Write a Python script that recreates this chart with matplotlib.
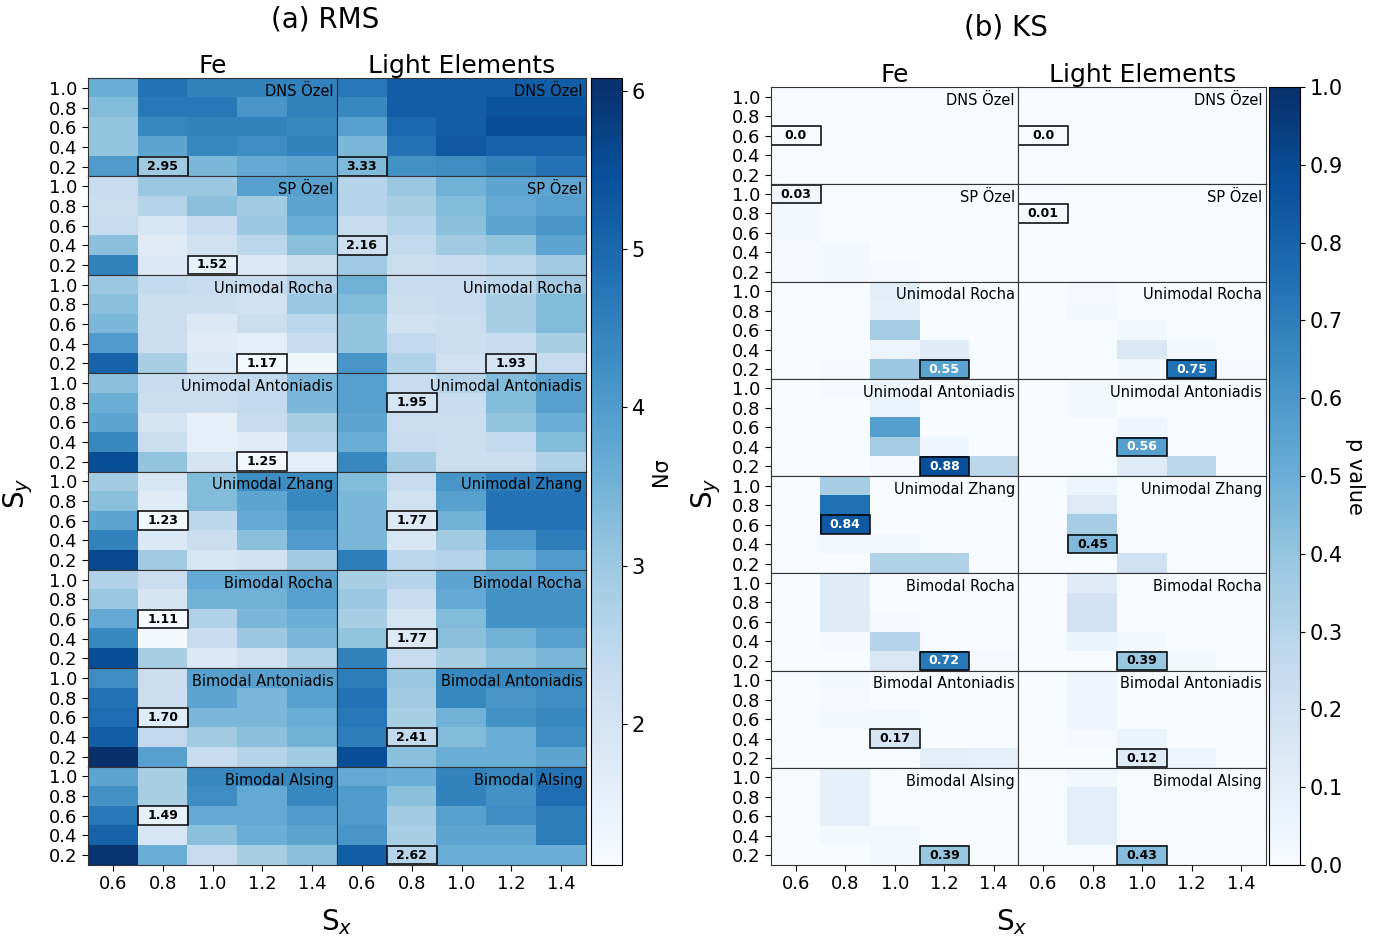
import numpy as np
import matplotlib
matplotlib.use('Agg')
import matplotlib.pyplot as plt
from matplotlib.patches import Rectangle
from matplotlib.colors import Normalize

# subpanel names, top to bottom
models = ['DNS Özel', 'SP Özel', 'Unimodal Rocha', 'Unimodal Antoniadis',
          'Unimodal Zhang', 'Bimodal Rocha', 'Bimodal Antoniadis', 'Bimodal Alsing']
columns = ['Fe', 'Light Elements']
sx_vals = [0.6, 0.8, 1.0, 1.2, 1.4]
sy_vals = [1.0, 0.8, 0.6, 0.4, 0.2]   # grid rows are listed top (sy=1.0) to bottom (sy=0.2)

# RMS (N sigma), Fe
rms_fe = [
  [[3.6, 4.8, 4.5, 4.5, 4.5], [3.3, 4.7, 4.7, 4.1, 4.5], [3.1, 4.4, 4.5, 4.5, 4.4],
   [3.1, 3.8, 4.4, 4.3, 4.5], [4.0, 2.95, 3.4, 3.7, 3.8]],
  [[2.3, 3.0, 3.0, 3.9, 3.9], [2.2, 2.6, 3.2, 2.9, 3.8], [2.3, 1.9, 2.3, 3.0, 3.6],
   [3.2, 1.7, 2.1, 2.5, 3.2], [4.5, 1.8, 1.52, 1.8, 2.2]],
  [[3.0, 2.4, 2.3, 2.3, 2.7], [3.2, 2.2, 2.2, 2.1, 3.0], [3.4, 2.2, 1.8, 2.2, 2.5],
   [4.0, 2.2, 1.7, 1.6, 2.3], [5.1, 2.8, 1.8, 1.17, 1.3]],
  [[3.2, 2.3, 2.2, 2.4, 3.4], [3.6, 2.2, 2.2, 2.4, 3.4], [3.8, 2.0, 1.5, 2.3, 2.8],
   [4.4, 2.2, 1.5, 1.7, 2.6], [5.5, 3.1, 2.0, 1.25, 1.6]],
  [[2.9, 1.9, 3.3, 4.3, 4.3], [3.2, 1.7, 3.3, 3.8, 4.4], [3.8, 1.23, 2.5, 3.7, 4.2],
   [4.5, 1.8, 2.2, 3.2, 4.0], [5.6, 2.9, 1.9, 2.1, 2.9]],
  [[2.7, 2.2, 3.7, 3.7, 3.9], [3.0, 2.0, 3.5, 3.5, 3.9], [3.7, 1.11, 2.7, 3.4, 3.6],
   [4.4, 1.2, 2.3, 3.0, 3.4], [5.5, 2.8, 1.8, 2.1, 2.7]],
  [[4.3, 2.2, 3.9, 3.9, 3.9], [4.8, 2.2, 3.8, 3.4, 3.9], [4.9, 1.70, 3.4, 3.4, 3.6],
   [5.2, 2.4, 2.9, 3.2, 3.5], [6.08, 3.9, 2.3, 2.6, 2.9]],
  [[3.8, 2.8, 4.4, 4.4, 4.4], [4.2, 2.8, 4.3, 3.7, 4.4], [4.7, 1.49, 3.7, 3.7, 4.0],
   [5.1, 1.9, 3.2, 3.6, 3.8], [6.0, 3.6, 2.3, 2.8, 3.2]],
]

# RMS (N sigma), light elements
rms_light = [
  [[4.7, 5.2, 5.2, 5.2, 5.2], [4.4, 5.2, 5.2, 5.4, 5.4], [3.9, 5.0, 5.2, 5.5, 5.5],
   [3.4, 4.8, 5.3, 5.1, 5.1], [3.33, 4.2, 4.3, 4.5, 4.8]],
  [[2.6, 3.0, 3.5, 3.8, 3.8], [2.6, 2.8, 3.3, 3.7, 3.9], [2.3, 2.6, 3.2, 3.8, 4.1],
   [2.16, 2.4, 2.9, 3.1, 3.8], [2.95, 2.2, 2.3, 2.5, 2.9]],
  [[3.5, 2.3, 2.3, 2.5, 2.9], [3.3, 2.2, 2.3, 2.8, 3.3], [3.1, 2.1, 2.2, 2.8, 3.3],
   [3.1, 2.4, 2.2, 2.3, 2.8], [4.1, 2.7, 2.1, 1.93, 2.3]],
  [[3.9, 2.3, 2.6, 3.3, 3.9], [3.9, 1.95, 2.3, 3.3, 3.9], [3.8, 2.2, 2.2, 3.1, 3.6],
   [3.6, 2.3, 2.2, 2.4, 3.3], [4.4, 2.9, 2.2, 2.2, 2.7]],
  [[3.3, 2.3, 4.1, 4.6, 4.7], [3.4, 2.1, 3.9, 4.8, 4.8], [3.4, 1.77, 3.5, 4.8, 4.8],
   [3.4, 1.9, 2.9, 4.0, 4.6], [4.6, 2.5, 2.6, 3.5, 4.0]],
  [[2.8, 2.6, 3.8, 4.0, 4.0], [3.0, 2.3, 3.7, 4.2, 4.2], [2.8, 2.0, 3.3, 4.2, 4.2],
   [3.1, 1.77, 3.2, 3.5, 3.9], [4.5, 2.3, 2.8, 3.2, 3.4]],
  [[4.6, 3.0, 4.4, 4.4, 4.4], [4.8, 2.9, 4.4, 4.1, 4.3], [4.7, 2.8, 3.5, 4.2, 4.4],
   [4.6, 2.41, 3.3, 3.6, 4.3], [5.5, 3.2, 3.6, 3.6, 3.8]],
  [[3.7, 3.6, 4.5, 4.4, 4.8], [4.0, 3.2, 4.5, 4.2, 4.9], [4.0, 2.9, 3.9, 4.3, 4.6],
   [4.1, 2.8, 3.8, 3.8, 4.6], [5.2, 2.62, 3.6, 3.6, 3.6]],
]

# KS p values, Fe
ks_fe = [
  [[0, 0, 0, 0, 0], [0, 0, 0, 0, 0], [0.002, 0, 0, 0, 0],
   [0, 0, 0, 0, 0], [0, 0, 0, 0, 0]],
  [[0.03, 0, 0, 0, 0], [0.02, 0, 0, 0, 0], [0.02, 0, 0, 0, 0],
   [0.01, 0.02, 0, 0, 0], [0.01, 0.02, 0.01, 0, 0]],
  [[0, 0, 0.1, 0, 0], [0, 0, 0.08, 0, 0], [0, 0, 0.35, 0, 0],
   [0, 0, 0.05, 0.12, 0], [0, 0.01, 0.38, 0.55, 0]],
  [[0, 0.01, 0.05, 0, 0], [0, 0, 0.07, 0, 0], [0, 0, 0.57, 0, 0],
   [0, 0, 0.35, 0.04, 0], [0, 0, 0.01, 0.88, 0.28]],
  [[0, 0.35, 0, 0, 0], [0, 0.75, 0, 0, 0], [0, 0.84, 0, 0, 0],
   [0, 0.03, 0.02, 0, 0], [0, 0, 0.32, 0.32, 0]],
  [[0, 0.12, 0, 0, 0], [0, 0.12, 0, 0, 0], [0, 0.12, 0.01, 0, 0],
   [0, 0.01, 0.3, 0, 0], [0, 0, 0.15, 0.72, 0.01]],
  [[0, 0.02, 0, 0, 0], [0, 0.01, 0, 0, 0], [0, 0.02, 0.03, 0, 0],
   [0, 0, 0.17, 0, 0], [0, 0, 0, 0.1, 0.08]],
  [[0, 0.08, 0, 0, 0], [0, 0.08, 0, 0, 0], [0, 0.08, 0, 0, 0],
   [0, 0.02, 0.03, 0, 0], [0, 0, 0.03, 0.39, 0]],
]

# KS p values, light elements
ks_light = [
  [[0, 0, 0, 0, 0], [0, 0, 0, 0, 0], [0.002, 0, 0, 0, 0],
   [0, 0, 0, 0, 0], [0, 0, 0, 0, 0]],
  [[0.005, 0, 0, 0, 0], [0.01, 0, 0, 0, 0], [0.005, 0, 0, 0, 0],
   [0.005, 0.005, 0, 0, 0], [0, 0.005, 0.005, 0, 0]],
  [[0, 0.01, 0, 0, 0], [0, 0.02, 0, 0, 0], [0, 0, 0.03, 0, 0],
   [0, 0, 0.15, 0.02, 0], [0, 0, 0.02, 0.75, 0.01]],
  [[0, 0.03, 0, 0, 0], [0, 0.03, 0, 0, 0], [0, 0, 0.04, 0, 0],
   [0, 0, 0.56, 0, 0], [0, 0, 0.12, 0.28, 0]],
  [[0, 0.05, 0, 0, 0], [0, 0.13, 0, 0, 0], [0, 0.35, 0, 0, 0],
   [0, 0.45, 0, 0, 0], [0, 0, 0.2, 0, 0]],
  [[0, 0.12, 0, 0, 0], [0, 0.18, 0, 0, 0], [0, 0.18, 0, 0, 0],
   [0, 0.06, 0.02, 0, 0], [0, 0, 0.39, 0.02, 0]],
  [[0, 0.04, 0, 0, 0], [0, 0.04, 0, 0, 0], [0, 0.04, 0, 0, 0],
   [0, 0.01, 0.06, 0, 0], [0, 0, 0.12, 0.05, 0]],
  [[0, 0.03, 0, 0, 0], [0, 0.1, 0, 0, 0], [0, 0.1, 0, 0, 0],
   [0, 0.1, 0, 0, 0], [0, 0, 0.43, 0, 0]],
]


def draw_panel(fig, box, data_pair, norm, pick, fmt):
  left, bottom, right, top = box
  gs = fig.add_gridspec(8, 2, left=left, right=right, bottom=bottom, top=top,
                        hspace=0, wspace=0)
  for j, data in enumerate(data_pair):
    for i, name in enumerate(models):
      ax = fig.add_subplot(gs[i, j])
      grid = np.array(data[i], dtype=float)
      im = ax.imshow(grid, cmap='Blues', norm=norm, extent=[0.5, 1.5, 0.1, 1.1],
                     origin='upper', aspect='auto', interpolation='nearest')
      # boxed cell = best value of the subpanel
      r, c = np.unravel_index(pick(grid), grid.shape)
      v = grid[r, c]
      x, y = sx_vals[c], sy_vals[r]
      ax.add_patch(Rectangle((x - 0.1, y - 0.095), 0.2, 0.19, fill=False,
                             ec='black', lw=1.1))
      ax.text(x, y, fmt(v), ha='center', va='center', fontsize=9, fontweight='bold',
              color='white' if norm(v) > 0.5 else 'black')
      ax.text(0.985, 0.94, name, transform=ax.transAxes, ha='right', va='top',
              fontsize=10.5)
      ax.set_xlim(0.5, 1.5)
      ax.set_ylim(0.1, 1.1)
      ax.set_xticks(sx_vals)
      ax.set_yticks(sy_vals)
      ax.tick_params(labelsize=13, length=4)
      if j == 1:
        ax.tick_params(left=False, labelleft=False)
      if i < len(models) - 1:
        ax.tick_params(bottom=False, labelbottom=False)
      if i == 0:
        ax.set_title(columns[j], fontsize=18, pad=3)
      for sp in ax.spines.values():
        sp.set_color('#333333')
  return im


fig = plt.figure(figsize=(13.93, 9.4), dpi=100)

# (a) RMS
norm_a = Normalize(vmin=1.11, vmax=6.08)
im_a = draw_panel(fig, (0.0632, 0.0798, 0.4207, 0.917), (rms_fe, rms_light),
                  norm_a, np.argmin, lambda v: '{:.2f}'.format(v))
cax_a = fig.add_axes([0.4243, 0.0798, 0.0223, 0.837])
cb_a = fig.colorbar(im_a, cax=cax_a, ticks=[2, 3, 4, 5, 6])
cb_a.ax.tick_params(labelsize=15)
cb_a.set_label('Nσ', fontsize=15, labelpad=4)

# (b) KS
norm_b = Normalize(vmin=0.0, vmax=1.0)
im_b = draw_panel(fig, (0.5535, 0.0798, 0.9088, 0.9074), (ks_fe, ks_light),
                  norm_b, np.argmax, lambda v: str(round(v, 2)))
cax_b = fig.add_axes([0.911, 0.0798, 0.0223, 0.8276])
cb_b = fig.colorbar(im_b, cax=cax_b, ticks=np.arange(0, 1.01, 0.1))
cb_b.ax.tick_params(labelsize=15)
cb_b.set_label('p value', fontsize=15, rotation=270, labelpad=16)

fig.text(0.2333, 0.979, '(a) RMS', ha='center', va='center', fontsize=20)
fig.text(0.722, 0.971, '(b) KS', ha='center', va='center', fontsize=20)
fig.text(0.013, 0.475, 'S$_y$', ha='center', va='center', rotation=90, fontsize=20)
fig.text(0.507, 0.475, 'S$_y$', ha='center', va='center', rotation=90, fontsize=20)
fig.text(0.242, 0.019, 'S$_x$', ha='center', va='center', fontsize=20)
fig.text(0.726, 0.019, 'S$_x$', ha='center', va='center', fontsize=20)

fig.savefig('out.png', dpi=100)
